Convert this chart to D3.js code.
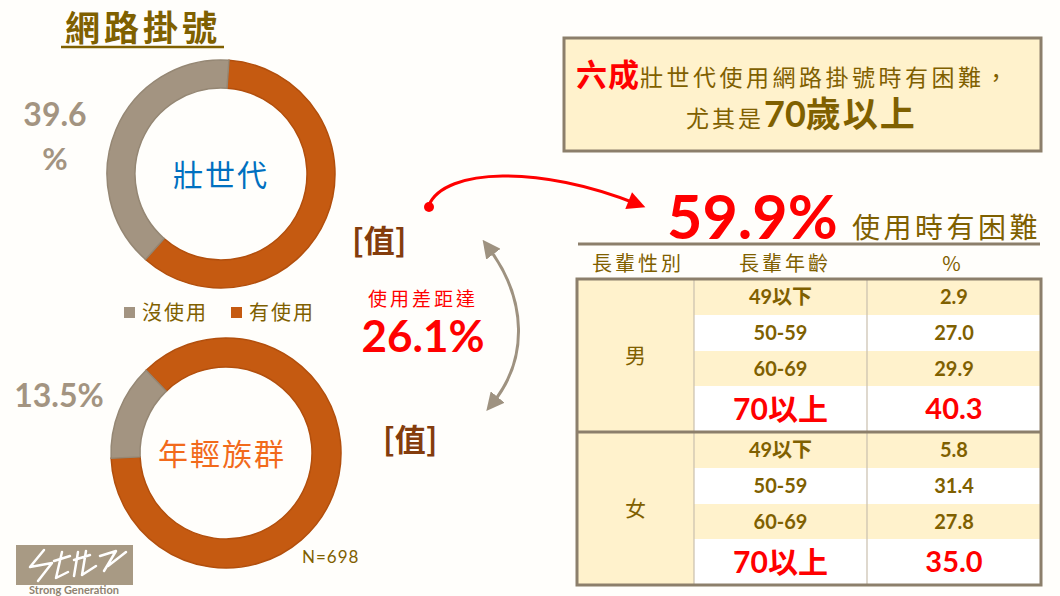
<!DOCTYPE html>
<html><head><meta charset="utf-8">
<script src="https://cdn.jsdelivr.net/npm/d3@7"></script>
<style>
html,body{margin:0;padding:0;background:#FFFEFB;}
svg{display:block;font-family:Lato,"Noto Sans CJK TC",sans-serif;}
</style></head>
<body><svg id="c" width="1060" height="596"></svg>
<script>
// ---- data ----
const chartTitle = "網路掛號";
const donutGroups = ["壯世代", "年輕族群"];
const notUsed = [39.6, 13.5];
const used = [60.4, 86.5];
const legendLabels = ["沒使用", "有使用"];
const gapValue = 26.1;
const difficultyTotal = 59.9;
const headerCols = ["長輩性別", "長輩年齡", "%"];
const genders = ["男", "女"];
const ageGroups = ["49以下", "50-59", "60-69", "70以上"];
const maleValues = [2.9, 27.0, 29.9, 40.3];
const femaleValues = [5.8, 31.4, 27.8, 35.0];
const sampleN = 698;

// ---- style ----
const GOLD = "#7F6000", ORANGE = "#C55A11", GRAY = "#A39481", RED = "#FF0000",
      BROWN = "#843C0C", CREAM = "#FFF2CC", FRAME = "#8C7F6B";
const svg = d3.select("#c");
const CJK = '"Noto Sans CJK TC",sans-serif';

// title
svg.append("text").attr("x", 143).attr("y", 41).attr("text-anchor", "middle")
  .attr("font-family", CJK).attr("font-size", 35).attr("font-weight", 700)
  .attr("fill", GOLD).attr("letter-spacing", 4).text(chartTitle);
svg.append("line").attr("x1", 61).attr("x2", 224).attr("y1", 47).attr("y2", 47)
  .attr("stroke", GOLD).attr("stroke-width", 2.5);

// donuts
const donutLayout = [
  {cx: 221, cy: 174, r0: 86, r1: 114, rot: 4, labelColor: "#0070C0", lx: 0},
  {cx: 226, cy: 453, r0: 86, r1: 115, rot: -44, labelColor: "#F26A1B", lx: -4}
];
const color = d3.scaleOrdinal().domain(legendLabels).range([GRAY, ORANGE]);
const stroke = d3.scaleOrdinal().domain(legendLabels).range(["#958774", "#B24F0D"]);
donutGroups.forEach((g, i) => {
  const L = donutLayout[i];
  const rot = L.rot * Math.PI / 180;
  const pie = d3.pie().sort(null).value(d => d.v).startAngle(rot).endAngle(rot + 2 * Math.PI);
  const arcs = pie([{k: legendLabels[1], v: used[i]}, {k: legendLabels[0], v: notUsed[i]}]);
  const arc = d3.arc().innerRadius(L.r0).outerRadius(L.r1);
  const gg = svg.append("g").attr("transform", `translate(${L.cx},${L.cy})`);
  gg.selectAll("path").data(arcs).join("path").attr("d", arc)
    .attr("fill", d => color(d.data.k)).attr("stroke", d => stroke(d.data.k)).attr("stroke-width", 1.5);
  gg.append("text").attr("text-anchor", "middle").attr("x", L.lx).attr("y", 12)
    .attr("font-family", CJK).attr("font-size", 30).attr("fill", L.labelColor)
    .attr("letter-spacing", 2).text(g);
});

// not-used percentages
const fmt = d3.format(".1f");
svg.append("text").attr("x", 55).attr("y", 126).attr("text-anchor", "middle")
  .attr("font-size", 32).attr("font-weight", 700).attr("fill", GRAY).text(fmt(notUsed[0]));
svg.append("text").attr("x", 55).attr("y", 170).attr("text-anchor", "middle")
  .attr("font-size", 31).attr("font-weight", 700).attr("fill", GRAY).text("%");
svg.append("text").attr("x", 59).attr("y", 407).attr("text-anchor", "middle")
  .attr("font-size", 32).attr("font-weight", 700).attr("fill", GRAY).text(fmt(notUsed[1]) + "%");

// legend
const legX = [124, 231];
legendLabels.forEach((l, i) => {
  svg.append("rect").attr("x", legX[i]).attr("y", 307).attr("width", 11).attr("height", 11).attr("fill", color(l));
  svg.append("text").attr("x", legX[i] + 18).attr("y", 320).attr("font-family", CJK)
    .attr("font-size", 20).attr("letter-spacing", 2).attr("fill", GOLD).text(l);
});

// [值] labels
svg.append("text").attr("x", 352).attr("y", 252).attr("font-family", CJK).attr("font-size", 31)
  .attr("font-weight", 700).attr("fill", BROWN).text("[值]");
svg.append("text").attr("x", 383).attr("y", 451).attr("font-family", CJK).attr("font-size", 31)
  .attr("font-weight", 700).attr("fill", BROWN).text("[值]");

// gap text
svg.append("text").attr("x", 423).attr("y", 306).attr("text-anchor", "middle").attr("font-family", CJK)
  .attr("font-size", 19).attr("letter-spacing", 3).attr("fill", RED).text("使用差距達");
svg.append("text").attr("x", 423).attr("y", 352).attr("text-anchor", "middle")
  .attr("font-size", 44).attr("font-weight", 700).attr("fill", RED).text(fmt(gapValue) + "%");

// arrows
const defs = svg.append("defs");
defs.append("marker").attr("id", "ga").attr("viewBox", "0 0 10 10").attr("refX", 5).attr("refY", 5)
  .attr("markerWidth", 6).attr("markerHeight", 6).attr("orient", "auto-start-reverse").attr("markerUnits", "strokeWidth")
  .append("path").attr("d", "M0,0L10,5L0,10z").attr("fill", "#9E9280");
defs.append("marker").attr("id", "ra").attr("viewBox", "0 0 10 10").attr("refX", 5).attr("refY", 5)
  .attr("markerWidth", 7).attr("markerHeight", 6).attr("orient", "auto").attr("markerUnits", "strokeWidth")
  .append("path").attr("d", "M0,0L10,5L0,10z").attr("fill", RED);
svg.append("path").attr("d", "M488,247 C528,300 528,360 492,404").attr("fill", "none")
  .attr("stroke", "#9E9280").attr("stroke-width", 3)
  .attr("marker-start", "url(#ga)").attr("marker-end", "url(#ga)");
svg.append("path").attr("d", "M429,205 C445,168 540,165 637,204").attr("fill", "none")
  .attr("stroke", RED).attr("stroke-width", 3).attr("marker-end", "url(#ra)");
svg.append("circle").attr("cx", 429).attr("cy", 207).attr("r", 5).attr("fill", RED);

// top-right box
svg.append("rect").attr("x", 564).attr("y", 38).attr("width", 477).attr("height", 113)
  .attr("fill", CREAM).attr("stroke", FRAME).attr("stroke-width", 3);
const t1 = svg.append("text").attr("x", 576).attr("y", 86).attr("font-family", CJK);
t1.append("tspan").attr("font-size", 31).attr("font-weight", 700).attr("fill", RED).attr("letter-spacing", 1).text("六成");
t1.append("tspan").attr("font-size", 23).attr("letter-spacing", 3.5).attr("fill", GOLD).text("壯世代使用網路掛號時有困難，");
const t2 = svg.append("text").attr("x", 686).attr("y", 127).attr("font-family", CJK).attr("fill", GOLD);
t2.append("tspan").attr("font-size", 23).attr("letter-spacing", 3).text("尤其是");
t2.append("tspan").attr("font-size", 36).attr("font-weight", 700).attr("font-family", "Lato").text("70");
t2.append("tspan").attr("font-size", 35).attr("font-weight", 700).attr("letter-spacing", 2).text("歲以上");

// 59.9%
svg.append("text").attr("x", 667).attr("y", 239).attr("font-size", 61).attr("font-weight", 700)
  .attr("fill", RED).text(fmt(difficultyTotal) + "%");
svg.append("text").attr("x", 852).attr("y", 238).attr("font-family", CJK).attr("font-size", 28)
  .attr("letter-spacing", 3.5).attr("fill", GOLD).text("使用時有困難");
svg.append("line").attr("x1", 578).attr("x2", 1040).attr("y1", 244).attr("y2", 244)
  .attr("stroke", FRAME).attr("stroke-width", 3);

// table
const colX = [577, 694, 867, 1041];
const headCx = [638, 785, 953];
headerCols.forEach((h, i) => {
  svg.append("text").attr("x", headCx[i]).attr("y", 271).attr("text-anchor", "middle")
    .attr("font-family", CJK).attr("font-size", 20).attr("letter-spacing", 3).attr("fill", GOLD).text(h);
});
const rowH = [36, 36, 35, 46];
const tableTop = 279;
const groups = [{g: genders[0], vals: maleValues}, {g: genders[1], vals: femaleValues}];
let y = tableTop;
const groupTops = [];
groups.forEach((grp, gi) => {
  const gTop = y;
  groupTops.push(gTop);
  const gH = d3.sum(rowH);
  svg.append("rect").attr("x", colX[0]).attr("y", gTop).attr("width", colX[1] - colX[0]).attr("height", gH).attr("fill", CREAM);
  ageGroups.forEach((a, ri) => {
    const h = rowH[ri];
    const hi = ri === ageGroups.length - 1;
    svg.append("rect").attr("x", colX[1]).attr("y", y).attr("width", colX[3] - colX[1]).attr("height", h)
      .attr("fill", ri % 2 === 0 ? CREAM : "#FFFFFF");
    const cy = y + h / 2;
    svg.append("text").attr("x", (colX[1] + colX[2]) / 2).attr("y", cy).attr("dy", "0.36em")
      .attr("text-anchor", "middle").attr("font-size", hi ? 30 : 20).attr("font-weight", 700)
      .attr("fill", hi ? RED : GOLD).text(a);
    svg.append("text").attr("x", (colX[2] + colX[3]) / 2).attr("y", cy).attr("dy", "0.36em")
      .attr("text-anchor", "middle").attr("font-size", hi ? 29 : 20).attr("font-weight", 700)
      .attr("fill", hi ? RED : GOLD).text(fmt(grp.vals[ri]));
    y += h;
  });
  svg.append("text").attr("x", (colX[0] + colX[1]) / 2).attr("y", gTop + gH / 2).attr("dy", "0.36em")
    .attr("text-anchor", "middle").attr("font-family", CJK).attr("font-size", 21).attr("fill", GOLD).text(grp.g);
});
[colX[1], colX[2]].forEach(x => {
  svg.append("line").attr("x1", x).attr("x2", x).attr("y1", tableTop).attr("y2", y)
    .attr("stroke", "#C9BFAE").attr("stroke-width", 1.2);
});
svg.append("line").attr("x1", colX[0]).attr("x2", colX[3]).attr("y1", groupTops[1]).attr("y2", groupTops[1])
  .attr("stroke", FRAME).attr("stroke-width", 3);
svg.append("rect").attr("x", colX[0]).attr("y", tableTop).attr("width", colX[3] - colX[0]).attr("height", y - tableTop)
  .attr("fill", "none").attr("stroke", FRAME).attr("stroke-width", 3);

// N
svg.append("text").attr("x", 302).attr("y", 563).attr("font-size", 17).attr("fill", GOLD)
  .attr("letter-spacing", 1).text("N=" + sampleN);

// logo
svg.append("rect").attr("x", 16).attr("y", 545).attr("width", 117).attr("height", 40).attr("fill", "#A89A84");
svg.append("path").attr("d", "M44,550 L30,567 L52,563 L38,581 M54,561 L70,556 M62,552 L56,578 L68,572 M74,560 L90,555 M78,552 L74,576 M86,551 L82,575 L96,566 M100,556 L116,551 L104,571 M108,566 L126,552")
  .attr("fill", "none").attr("stroke", "#FFFFFF").attr("stroke-width", 2.5).attr("stroke-linecap", "round").attr("stroke-linejoin", "round");
svg.append("text").attr("x", 74).attr("y", 594).attr("text-anchor", "middle").attr("font-size", 11)
  .attr("font-weight", 700).attr("fill", "#8E8270").text("Strong Generation");
</script></body></html>
